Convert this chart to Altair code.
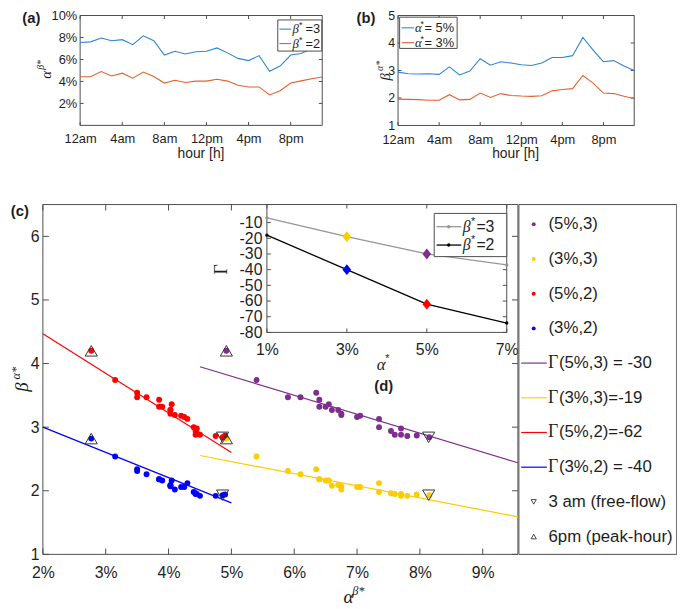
import altair as alt
import pandas as pd

# ------------------------------------------------------------------ data
hours = list(range(24))
hour_ticks = [0, 4, 8, 12, 16, 20]

# (a) alpha^{beta*} per hour  [%]
alpha_b3 = [7.54, 7.60, 7.95, 7.70, 7.80, 7.35, 8.15, 7.70, 6.40, 6.75, 6.50, 6.70,
            6.75, 7.05, 6.60, 6.10, 5.90, 6.35, 4.92, 5.40, 6.40, 6.55, 7.00, 7.35]
alpha_b2 = [4.43, 4.43, 4.90, 4.50, 4.75, 4.30, 4.86, 4.45, 3.85, 4.10, 3.90, 4.03,
            4.03, 4.20, 4.03, 3.65, 3.50, 3.50, 2.77, 3.15, 3.85, 4.05, 4.25, 4.40]
# (b) beta^{alpha*} per hour
beta_a5 = [2.94, 2.88, 2.87, 2.88, 2.86, 3.13, 2.84, 2.98, 3.43, 3.19, 3.32, 3.27,
           3.21, 3.18, 3.27, 3.47, 3.47, 3.54, 4.20, 3.74, 3.32, 3.36, 3.16, 3.00]
beta_a3 = [1.96, 1.95, 1.94, 1.92, 1.92, 2.12, 1.93, 1.95, 2.18, 2.02, 2.16, 2.09,
           2.07, 2.06, 2.08, 2.26, 2.31, 2.34, 2.82, 2.54, 2.18, 2.16, 2.06, 1.98]

# (c) groups (alpha*, beta*)
groups = ["(5%,3)", "(3%,3)", "(5%,2)", "(3%,2)"]
group_astar = [5, 3, 5, 3]
group_bstar = [3, 3, 2, 2]
group_colors = ["#7E2F8E", "#FFCC00", "#FF0000", "#0000FF"]
# fitted lines (end points)
fit_x0 = [4.5, 4.5, 2.0, 2.0]
fit_y0 = [3.95, 2.555, 4.47, 3.00]
fit_x1 = [9.56, 9.56, 5.0, 5.0]
fit_y1 = [2.44, 1.59, 2.60, 1.81]
gamma_labels = ["(5%,3) = -30", "(3%,3)=-19", "(5%,2)=-62", "(3%,2) = -40"]
# special hours
freeflow_alpha = {3: 8.14, 2: 4.86}
freeflow_beta = {5: 2.84, 3: 1.93}
peak_alpha = {3: 4.92, 2: 2.77}
peak_beta = {5: 4.20, 3: 2.82}

# (d) inset
inset_alpha = [1, 3, 5, 7]
gamma_b3 = [-7, -19, -30, -37]
gamma_b2 = [-18, -40, -62, -74]

# ------------------------------------------------------------------ style / layout
SANS = "Liberation Sans, Arial, Helvetica, sans-serif"
SERIF = "Liberation Serif, Times New Roman, serif"
TXT = "#1e1e1e"
FRAME = "#4d4d4d"
BLUE_A = "#2f86d0"
ORANGE_A = "#e0622f"
GRAY_D = "#969696"
W, H = 677, 601


def P(v):
    return round(v - 8, 2)


class Panel:
    def __init__(self, xd, xr, yd, yr, xt, yt):
        self.xd, self.xr, self.yd, self.yr, self.xt, self.yt = xd, xr, yd, yr, xt, yt
        self.xs = alt.Scale(domain=xd, range=[P(xr[0]), P(xr[1])], nice=False, zero=False)
        self.ys = alt.Scale(domain=yd, range=[P(yr[0]), P(yr[1])], nice=False, zero=False)


pa = Panel([0, 23], (81, 326), [0, 10], (123.2, 12), hour_ticks, [2, 4, 6, 8, 10])
pb = Panel([0, 23], (402.7, 641.7), [1, 5], (123.3, 12), hour_ticks, [1, 2, 3, 4, 5])
pc = Panel([2, 9.56], (43.3, 524), [1, 6.5], (557.3, 203.3), list(range(2, 10)), list(range(1, 7)))
pd_ = Panel([1, 7], (270, 512.7), [-80, 1.5], (332.7, 203.3), inset_alpha, list(range(-80, 0, 10)))

HOUR_EXPR = "(datum.value % 12 == 0 ? 12 : datum.value % 12) + (datum.value < 12 ? 'am' : 'pm')"
PCT_EXPR = "datum.value + '%'"
NUM_EXPR = "datum.value + ''"


def ax_x(p, fs, pad, expr):
    return alt.Axis(orient="bottom", offset=P(p.yr[0]) - H, values=p.xt, labelExpr=expr,
                    domain=False, ticks=False, tickSize=0, grid=False, labelFont=SANS,
                    labelFontSize=fs, labelColor=TXT, labelPadding=pad, labelFlush=False,
                    labelOverlap=False, title=None)


def ax_y(p, fs, pad, expr):
    return alt.Axis(orient="left", offset=-P(p.xr[0]), values=p.yt, labelExpr=expr,
                    domain=False, ticks=False, tickSize=0, grid=False, labelFont=SANS,
                    labelFontSize=fs, labelColor=TXT, labelPadding=pad, labelFlush=False,
                    labelOverlap=False, title=None)


def frame(p, fill, xaxis, yaxis):
    df = pd.DataFrame({"x0": [p.xd[0]], "x1": [p.xd[1]], "y0": [p.yd[0]], "y1": [p.yd[1]]})
    return alt.Chart(df).mark_rect(fill=fill, stroke=FRAME, strokeWidth=1).encode(
        x=alt.X("x0:Q", scale=p.xs, axis=xaxis), x2="x1:Q",
        y=alt.Y("y0:Q", scale=p.ys, axis=yaxis), y2="y1:Q")


def tick_layers(p, L):
    b, t, l, r = P(p.yr[0]), P(p.yr[1]), P(p.xr[0]), P(p.xr[1])
    dx = pd.DataFrame({"v": p.xt})
    dy = pd.DataFrame({"v": p.yt})
    out = []
    for yy in (b - L / 2, t + L / 2):
        out.append(alt.Chart(dx).mark_tick(orient="vertical", size=L, thickness=1,
                                           color=FRAME, opacity=1).encode(
            x=alt.X("v:Q", scale=p.xs, axis=None), y=alt.value(yy)))
    for xx in (l + L / 2, r - L / 2):
        out.append(alt.Chart(dy).mark_tick(orient="horizontal", size=L, thickness=1,
                                           color=FRAME, opacity=1).encode(
            y=alt.Y("v:Q", scale=p.ys, axis=None), x=alt.value(xx)))
    return out


ONE = pd.DataFrame({"k": [0]})


def label(s, x, y, size, font=SANS, style="normal", weight="normal", angle=0,
          align="center", baseline="middle", color=TXT):
    return alt.Chart(ONE).mark_text(text=s, font=font, fontSize=size, fontStyle=style,
                                    fontWeight=weight, angle=angle, align=align,
                                    baseline=baseline, color=color).encode(
        x=alt.value(P(x)), y=alt.value(P(y)))


def box(x0, y0, x1, y1, fill="white"):
    return alt.Chart(ONE).mark_rect(fill=fill, stroke=FRAME, strokeWidth=1).encode(
        x=alt.value(P(x0)), x2=alt.value(P(x1)), y=alt.value(P(y0)), y2=alt.value(P(y1)))


layers = []

# ------------------------------------------------------------------ panel (c)
layers.append(frame(pc, "transparent", ax_x(pc, 16, 10, PCT_EXPR), ax_y(pc, 16, 4, NUM_EXPR)))
layers += tick_layers(pc, 6)

fit_rows = []
for g, c, a0, b0, a1, b1 in zip(groups, group_colors, fit_x0, fit_y0, fit_x1, fit_y1):
    fit_rows.append({"group": g, "color": c, "alpha": a0, "beta": b0})
    fit_rows.append({"group": g, "color": c, "alpha": a1, "beta": b1})
layers.append(alt.Chart(pd.DataFrame(fit_rows)).mark_line(strokeWidth=1.2).encode(
    x=alt.X("alpha:Q", scale=pc.xs, axis=None), y=alt.Y("beta:Q", scale=pc.ys, axis=None),
    color=alt.Color("color:N", scale=None), detail="group:N"))

series_alpha = {3: alpha_b3, 2: alpha_b2}
series_beta = {5: beta_a5, 3: beta_a3}
sc_rows = []
for g, c, ast, bst in zip(groups, group_colors, group_astar, group_bstar):
    for h in hours:
        sc_rows.append({"group": g, "color": c, "alpha": series_alpha[bst][h],
                        "beta": series_beta[ast][h]})
layers.append(alt.Chart(pd.DataFrame(sc_rows)).mark_circle(size=36, opacity=1).encode(
    x=alt.X("alpha:Q", scale=pc.xs, axis=None), y=alt.Y("beta:Q", scale=pc.ys, axis=None),
    color=alt.Color("color:N", scale=None)))

tri_rows = []
for ast, bst in zip(group_astar, group_bstar):
    tri_rows.append({"alpha": freeflow_alpha[bst], "beta": freeflow_beta[ast], "shape": "triangle-down"})
    tri_rows.append({"alpha": peak_alpha[bst], "beta": peak_beta[ast], "shape": "triangle-up"})
layers.append(alt.Chart(pd.DataFrame(tri_rows)).mark_point(size=150, filled=False, color="#333333",
                                                          strokeWidth=1, opacity=1).encode(
    x=alt.X("alpha:Q", scale=pc.xs, axis=None), y=alt.Y("beta:Q", scale=pc.ys, axis=None),
    shape=alt.Shape("shape:N", scale=None)))

# ------------------------------------------------------------------ inset (d)
layers.append(frame(pd_, "white", ax_x(pd_, 16, 9.5, PCT_EXPR), ax_y(pd_, 16, 5, NUM_EXPR)))
layers += tick_layers(pd_, 4)
in_rows = []
for a, g3, g2 in zip(inset_alpha, gamma_b3, gamma_b2):
    in_rows.append({"alpha": a, "gamma": g3, "s": "b3", "color": GRAY_D})
    in_rows.append({"alpha": a, "gamma": g2, "s": "b2", "color": "#000000"})
layers.append(alt.Chart(pd.DataFrame(in_rows)).mark_line(
    strokeWidth=1.3, point=alt.OverlayMarkDef(filled=True, size=12, opacity=1)).encode(
    x=alt.X("alpha:Q", scale=pd_.xs, axis=None), y=alt.Y("gamma:Q", scale=pd_.ys, axis=None),
    color=alt.Color("color:N", scale=None), detail="s:N"))
dia_rows = []
for c, ast, bst in zip(group_colors, group_astar, group_bstar):
    gl = gamma_b3 if bst == 3 else gamma_b2
    dia_rows.append({"alpha": ast, "gamma": gl[inset_alpha.index(ast)], "color": c})
layers.append(alt.Chart(pd.DataFrame(dia_rows)).mark_point(
    shape="M0,-1L0.8,0L0,1L-0.8,0Z", size=120, filled=True, opacity=1).encode(
    x=alt.X("alpha:Q", scale=pd_.xs, axis=None), y=alt.Y("gamma:Q", scale=pd_.ys, axis=None),
    color=alt.Color("color:N", scale=None)))

# inset legend
layers.append(box(439.3, 212.3, 512.7, 256))
leg_d = pd.DataFrame({"i": [0, 1], "color": [GRAY_D, "#000000"], "num": ["=3", "=2"]})
yd_leg = alt.Y("i:Q", scale=alt.Scale(domain=[0, 1], range=[P(225.7), P(244.3)], nice=False, zero=False), axis=None)
layers.append(alt.Chart(leg_d).mark_rule(strokeWidth=1.3).encode(
    x=alt.value(P(441.7)), x2=alt.value(P(466.7)), y=yd_leg, color=alt.Color("color:N", scale=None)))
layers.append(alt.Chart(leg_d).mark_circle(size=12, opacity=1).encode(
    x=alt.value(P(454)), y=yd_leg, color=alt.Color("color:N", scale=None)))
layers.append(alt.Chart(leg_d).mark_text(text="β", font=SERIF, fontStyle="italic", fontSize=16,
                                         align="left", baseline="middle", color=TXT).encode(
    x=alt.value(P(468.3)), y=yd_leg))
layers.append(alt.Chart(leg_d).mark_text(text="*", font=SANS, fontSize=11, dy=-5,
                                         align="left", baseline="middle", color=TXT).encode(
    x=alt.value(P(476.5)), y=yd_leg))
layers.append(alt.Chart(leg_d).mark_text(font=SANS, fontSize=16, align="left",
                                         baseline="middle", color=TXT).encode(
    x=alt.value(P(482)), y=yd_leg, text="num:N"))

# ------------------------------------------------------------------ panel (a)
layers.append(frame(pa, "transparent", ax_x(pa, 13, 7.2, HOUR_EXPR), ax_y(pa, 13, 3.4, PCT_EXPR)))
layers += tick_layers(pa, 3.5)
a_rows = []
for h in hours:
    a_rows.append({"hour": h, "v": alpha_b3[h], "s": "b3", "color": BLUE_A})
for h in hours:
    a_rows.append({"hour": h, "v": alpha_b2[h], "s": "b2", "color": ORANGE_A})
layers.append(alt.Chart(pd.DataFrame(a_rows)).mark_line(strokeWidth=1.1).encode(
    x=alt.X("hour:Q", scale=pa.xs, axis=None), y=alt.Y("v:Q", scale=pa.ys, axis=None),
    color=alt.Color("color:N", scale=None), detail="s:N"))
layers.append(box(281, 16.5, 325.5, 48))
leg_a = pd.DataFrame({"i": [0, 1], "color": [BLUE_A, ORANGE_A], "num": ["=3", "=2"]})
ya_leg = alt.Y("i:Q", scale=alt.Scale(domain=[0, 1], range=[P(25.8), P(40.4)], nice=False, zero=False), axis=None)
layers.append(alt.Chart(leg_a).mark_rule(strokeWidth=1.1).encode(
    x=alt.value(P(282.7)), x2=alt.value(P(294.5)), y=ya_leg, color=alt.Color("color:N", scale=None)))
layers.append(alt.Chart(leg_a).mark_text(text="β", font=SERIF, fontStyle="italic", fontSize=13,
                                         align="left", baseline="middle", color=TXT).encode(
    x=alt.value(P(296)), y=ya_leg))
layers.append(alt.Chart(leg_a).mark_text(text="*", font=SANS, fontSize=9, dy=-4,
                                         align="left", baseline="middle", color=TXT).encode(
    x=alt.value(P(302.5)), y=ya_leg))
layers.append(alt.Chart(leg_a).mark_text(font=SANS, fontSize=13, align="left",
                                         baseline="middle", color=TXT).encode(
    x=alt.value(P(309)), y=ya_leg, text="num:N"))

# ------------------------------------------------------------------ panel (b)
layers.append(frame(pb, "transparent", ax_x(pb, 13, 8, HOUR_EXPR), ax_y(pb, 12.5, 3.4, NUM_EXPR)))
layers += tick_layers(pb, 3.5)
b_rows = []
for h in hours:
    b_rows.append({"hour": h, "v": beta_a5[h], "s": "a5", "color": BLUE_A})
for h in hours:
    b_rows.append({"hour": h, "v": beta_a3[h], "s": "a3", "color": ORANGE_A})
layers.append(alt.Chart(pd.DataFrame(b_rows)).mark_line(strokeWidth=1.1).encode(
    x=alt.X("hour:Q", scale=pb.xs, axis=None), y=alt.Y("v:Q", scale=pb.ys, axis=None),
    color=alt.Color("color:N", scale=None), detail="s:N"))
layers.append(box(404.3, 13.7, 462.5, 45.3))
leg_b = pd.DataFrame({"i": [0, 1], "color": [BLUE_A, ORANGE_A], "num": ["= 5%", "= 3%"]})
yb_leg = alt.Y("i:Q", scale=alt.Scale(domain=[0, 1], range=[P(24.5), P(39.5)], nice=False, zero=False), axis=None)
layers.append(alt.Chart(leg_b).mark_rule(strokeWidth=1.1).encode(
    x=alt.value(P(406.3)), x2=alt.value(P(419)), y=yb_leg, color=alt.Color("color:N", scale=None)))
layers.append(alt.Chart(leg_b).mark_text(text="α", font=SERIF, fontStyle="italic", fontSize=13,
                                         align="left", baseline="middle", color=TXT).encode(
    x=alt.value(P(419.8)), y=yb_leg))
layers.append(alt.Chart(leg_b).mark_text(text="*", font=SANS, fontSize=9, dy=-4,
                                         align="left", baseline="middle", color=TXT).encode(
    x=alt.value(P(425.5)), y=yb_leg))
layers.append(alt.Chart(leg_b).mark_text(font=SANS, fontSize=13, align="left",
                                         baseline="middle", color=TXT).encode(
    x=alt.value(P(429.5)), y=yb_leg, text="num:N"))

# ------------------------------------------------------------------ legend of (c)
layers.append(box(525, 203.3, 684.7, 557.3))
leg_c = pd.DataFrame({
    "i": list(range(10)),
    "kind": ["dot"] * 4 + ["line"] * 4 + ["tri"] * 2,
    "color": group_colors + group_colors + ["#333333", "#333333"],
    "shape": ["circle"] * 8 + ["triangle-down", "triangle-up"],
    "text": groups + gamma_labels + ["3 am (free-flow)", "6pm (peak-hour)"],
})
yc_leg = alt.Y("i:Q", scale=alt.Scale(domain=[0, 9], range=[P(223.3), P(539.3)], nice=False, zero=False), axis=None)
base_c = alt.Chart(leg_c)
layers.append(base_c.transform_filter("datum.kind == 'dot'").mark_circle(size=16, opacity=1).encode(
    x=alt.value(P(540)), y=yc_leg, color=alt.Color("color:N", scale=None)))
layers.append(base_c.transform_filter("datum.kind == 'line'").mark_rule(strokeWidth=1.2).encode(
    x=alt.value(P(527.3)), x2=alt.value(P(553.3)), y=yc_leg, color=alt.Color("color:N", scale=None)))
layers.append(base_c.transform_filter("datum.kind == 'tri'").mark_point(
    size=28, filled=False, color="#333333", strokeWidth=0.9, opacity=1).encode(
    x=alt.value(P(540)), y=yc_leg, shape=alt.Shape("shape:N", scale=None)))
layers.append(base_c.transform_filter("datum.kind != 'line'").mark_text(
    font=SANS, fontSize=17, align="left", baseline="middle", color=TXT).encode(
    x=alt.value(P(555)), y=yc_leg, text="text:N"))
layers.append(base_c.transform_filter("datum.kind == 'line'").mark_text(
    text="Γ", font=SERIF, fontSize=18, align="left", baseline="middle", color=TXT).encode(
    x=alt.value(P(554.5)), y=yc_leg))
layers.append(base_c.transform_filter("datum.kind == 'line'").mark_text(
    font=SANS, fontSize=17, align="left", baseline="middle", color=TXT).encode(
    x=alt.value(P(565.5)), y=yc_leg, text="text:N"))

# ------------------------------------------------------------------ titles and labels
layers += [
    label("(a)", 31.7, 14.5, 15, weight="bold"),
    label("(b)", 370.3, 14.5, 15, weight="bold"),
    label("(c)", 20, 210, 15, weight="bold"),
    label("(d)", 388.3, 386.7, 15, weight="bold"),
    label("hour [h]", 203.3, 152.5, 14),
    label("hour [h]", 521.7, 152.5, 14),
    # (a) y title  alpha^{beta*}
    label("α", 46.5, 72, 15, font=SERIF, style="italic", angle=270),
    label("β*", 41.5, 62, 10, font=SERIF, style="italic", angle=270),
    # (b) y title  beta^{alpha*}
    label("β", 389.5, 74, 15, font=SERIF, style="italic", angle=270),
    label("α*", 384.5, 63, 10, font=SERIF, style="italic", angle=270),
    # (c) y title  beta^{alpha*}
    label("β", 22, 388, 19, font=SERIF, style="italic", angle=270),
    label("α*", 16.5, 374, 12.5, font=SERIF, style="italic", angle=270),
    # (c) x title  alpha^{beta*}
    label("α", 352.5, 601, 19, font=SERIF, style="italic"),
    label("β*", 362.5, 594.5, 12.5, font=SERIF, style="italic"),
    # (d) titles
    label("α", 385.5, 366, 17, font=SERIF, style="italic"),
    label("*", 392, 360, 11, font=SANS),
    label("Γ", 224.5, 269, 18, font=SERIF, angle=270),
]

chart = alt.layer(*layers).resolve_scale(
    x="independent", y="independent"
).properties(
    width=W, height=H, autosize=alt.AutoSizeParams(type="none"), padding=0
).configure_view(stroke=None)

chart.save("out.html", embed_options={"renderer": "svg", "actions": False})
